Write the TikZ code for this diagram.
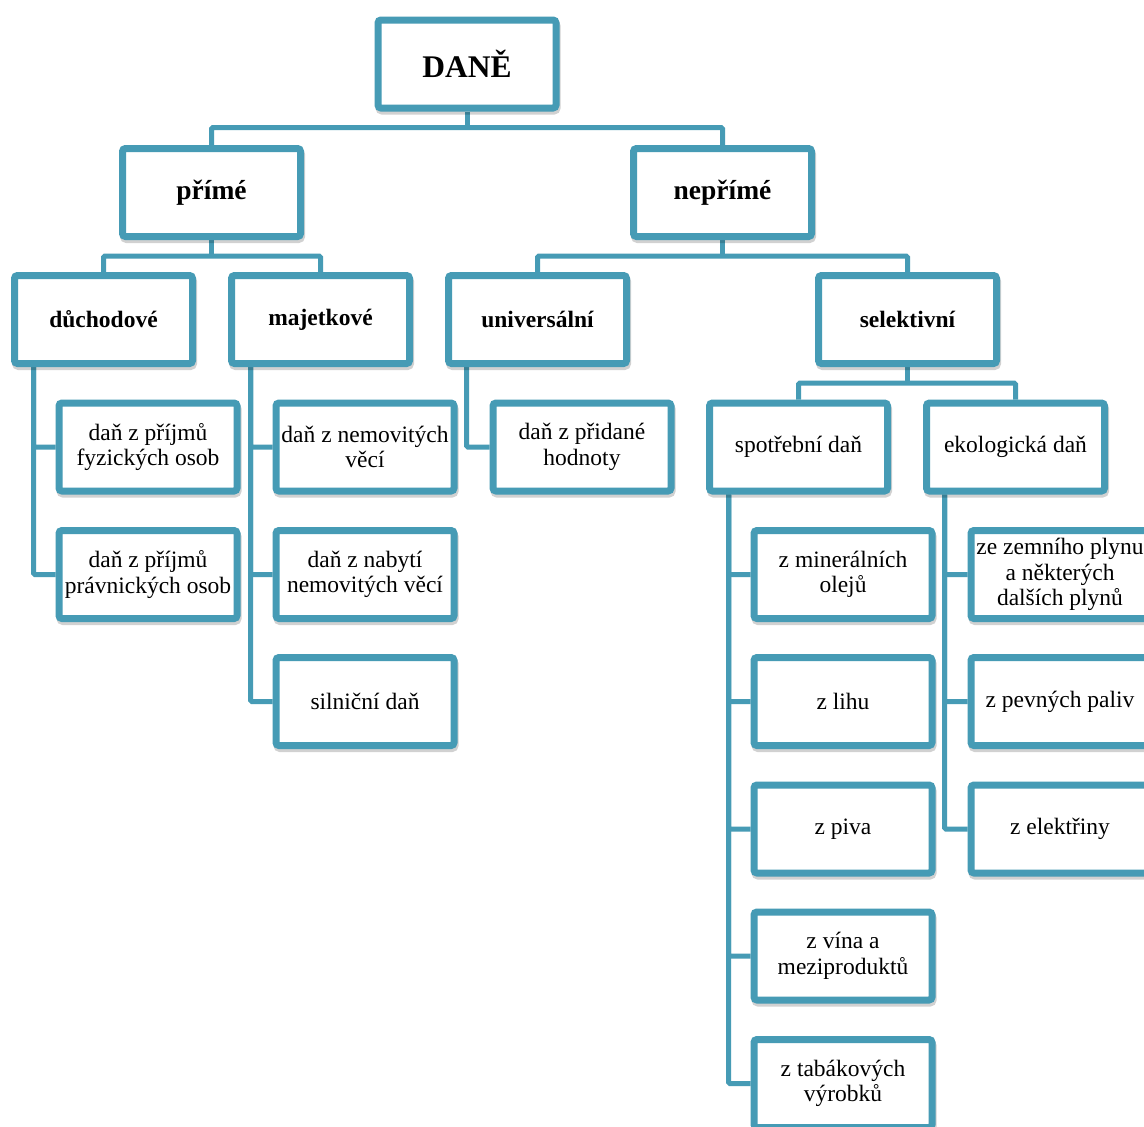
\documentclass[tikz,border=0pt]{standalone}
\usepackage{fontspec}
\setmainfont{Liberation Serif}
\usetikzlibrary{shadows,backgrounds,calc}
\definecolor{tealc}{RGB}{70,155,181}
\newcommand\fs{\fontsize{23.5}{25.5}\selectfont}
\begin{document}
\begin{tikzpicture}[x=1pt,y=-1pt,
  box/.style={draw=tealc, line width=7pt, rounded corners=3pt, fill=white,
    minimum width=178pt, minimum height=88pt, inner sep=0pt, align=center,
    font=\fs, drop shadow={shadow xshift=1pt, shadow yshift=-3pt, opacity=0.18, fill=black, draw=black, line width=7pt}},
  conn/.style={draw=tealc, line width=5pt, rounded corners=1.5pt},
  hd/.style={box, font=\fs\bfseries}]
\clip (0,0) rectangle (1144,1127);
\node[hd, font=\fontsize{31.5}{34}\selectfont\bfseries] (dane) at (467,64) {DANĚ};
\node[hd, font=\fontsize{27.5}{30}\selectfont\bfseries] (prime) at (211.5,192.5) {přímé};
\node[hd, font=\fontsize{27.5}{30}\selectfont\bfseries] (neprime) at (722.5,192.5) {nepřímé};
\node[hd] (duch) at (103.5,319.5) {důchodové};
\node[hd] (maj) at (320.5,319.5) {majetkové};
\node[hd] (univ) at (537.5,319.5) {universální};
\node[hd] (sel) at (907.5,319.5) {selektivní};
\node[box] (fyz) at (148,447) {daň z příjmů\\fyzických osob};
\node[box] (prav) at (148,574.5) {daň z příjmů\\právnických osob};
\node[box] (nem) at (365,447) {daň z nemovitých\\věcí};
\node[box] (nab) at (365,574.5) {daň z nabytí\\nemovitých věcí};
\node[box] (siln) at (365,701.5) {silniční daň};
\node[box] (dph) at (582,447) {daň z přidané\\hodnoty};
\node[box] (spot) at (798.5,447) {spotřební daň};
\node[box] (eko) at (1015.5,447) {ekologická daň};
\node[box] (min) at (843,574.5) {z minerálních\\olejů};
\node[box] (lih) at (843,701.5) {z lihu};
\node[box] (piv) at (843,829) {z piva};
\node[box] (vin) at (843,956) {z vína a\\meziproduktů};
\node[box] (tab) at (843,1083.5) {z tabákových\\výrobků};
\node[box] (plyn) at (1060,574.5) {ze zemního plynu\\a některých\\dalších plynů};
\node[box] (pev) at (1060,701.5) {z pevných paliv};
\node[box] (ele) at (1060,829) {z elektřiny};
\begin{scope}[on background layer]
\fill[white] (0,0) rectangle (1144,1127);
\draw[conn] (dane.south) -- ++(0,16);
\draw[conn] (prime.north) |- ($(dane.south)+(0,16)$) -| (neprime.north);
\draw[conn] (prime.south) -- ++(0,16);
\draw[conn] (duch.north) |- ($(prime.south)+(0,16)$) -| (maj.north);
\draw[conn] (neprime.south) -- ++(0,16);
\draw[conn] (univ.north) |- ($(neprime.south)+(0,16)$) -| (sel.north);
\draw[conn] (sel.south) -- ++(0,16);
\draw[conn] (spot.north) |- ($(sel.south)+(0,16)$) -| (eko.north);
\draw[conn] ([xshift=-70pt]duch.south) |- (fyz.west);
\draw[conn] ([xshift=-70pt]duch.south) |- (prav.west);
\draw[conn] ([xshift=-70pt]maj.south) |- (nem.west);
\draw[conn] ([xshift=-70pt]maj.south) |- (nab.west);
\draw[conn] ([xshift=-70pt]maj.south) |- (siln.west);
\draw[conn] ([xshift=-71pt]univ.south) |- (dph.west);
\draw[conn] ([xshift=-70pt]spot.south) |- (min.west);
\draw[conn] ([xshift=-70pt]spot.south) |- (lih.west);
\draw[conn] ([xshift=-70pt]spot.south) |- (piv.west);
\draw[conn] ([xshift=-70pt]spot.south) |- (vin.west);
\draw[conn] ([xshift=-70pt]spot.south) |- (tab.west);
\draw[conn] ([xshift=-71pt]eko.south) |- (plyn.west);
\draw[conn] ([xshift=-71pt]eko.south) |- (pev.west);
\draw[conn] ([xshift=-71pt]eko.south) |- (ele.west);
\end{scope}
\end{tikzpicture}
\end{document}
